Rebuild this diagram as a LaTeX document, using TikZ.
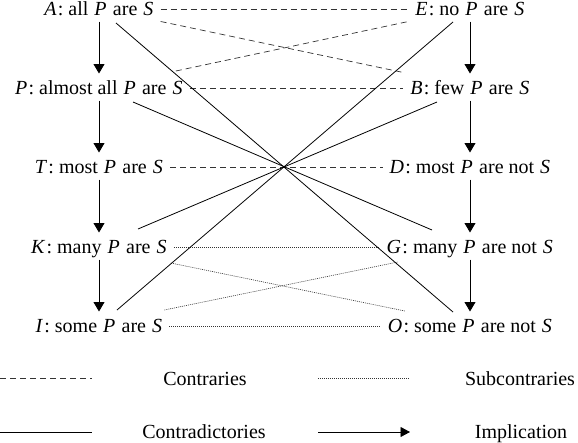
\documentclass[tikz,border=0pt]{standalone}
\usepackage{fontspec}
\setmainfont{Liberation Serif}
\usetikzlibrary{arrows.meta,calc}
\newcommand{\mi}[1]{\kern1pt\textit{#1}\kern1.3pt\relax}
\begin{document}
\begin{tikzpicture}[x=1pt,y=-1pt,
  stmt/.style={inner xsep=6pt,inner ysep=6pt,outer sep=0pt,text height=13pt,text depth=0pt,font=\fontsize{20}{24}\selectfont},
  legtext/.style={inner sep=0pt,text height=13pt,text depth=0pt,font=\fontsize{20}{24}\selectfont},
  contrary/.style={line width=0.7pt,dash pattern=on 6pt off 4pt,black!80},
  subcontrary/.style={line width=0.6pt,dash pattern=on 1pt off 1pt,black!80},
  contradict/.style={line width=0.8pt},
  imp/.style={line width=0.8pt,-{Triangle[length=9.5pt,width=11pt]},shorten >=2pt}]
\useasboundingbox (0,0) rectangle (578,442);
% nodes
\node[stmt] (A) at (99,9)   {\mi{A}: all \mi{P} are \mi{S}};
\node[stmt] (P) at (99,88)  {\mi{P}: almost all \mi{P} are \mi{S}};
\node[stmt] (T) at (99,167) {\mi{T}: most \mi{P} are \mi{S}};
\node[stmt] (K) at (99,247) {\mi{K}: many \mi{P} are \mi{S}};
\node[stmt] (I) at (99,326) {\mi{I}: some \mi{P} are \mi{S}};
\node[stmt] (E) at (470,9)   {\mi{E}: no \mi{P} are \mi{S}};
\node[stmt] (B) at (470,88)  {\mi{B}: few \mi{P} are \mi{S}};
\node[stmt] (D) at (470,167) {\mi{D}: most \mi{P} are not \mi{S}};
\node[stmt] (G) at (470,247) {\mi{G}: many \mi{P} are not \mi{S}};
\node[stmt] (O) at (470,326) {\mi{O}: some \mi{P} are not \mi{S}};
% implications
\draw[imp] (A) -- (P);
\draw[imp] (P) -- (T);
\draw[imp] (T) -- (K);
\draw[imp] (K) -- (I);
\draw[imp] (E) -- (B);
\draw[imp] (B) -- (D);
\draw[imp] (D) -- (G);
\draw[imp] (G) -- (O);
% contraries
\draw[contrary] (A.east) -- (E.west);
\draw[contrary] (A.south east) -- ([shift={(0,-3)}]B.north west);
\draw[contrary] ([shift={(-14,-4.5)}]P.north east) -- (E.south west);
\draw[contrary] (P.east) -- (B.west);
\draw[contrary] (T.east) -- (D.west);
% subcontraries
\draw[subcontrary] (K.east) -- (G.west);
\draw[subcontrary] (I.east) -- (O.west);
\draw[subcontrary] ([shift={(-3,3.5)}]K.south east) -- ([shift={(24,-2.5)}]O.north west);
\draw[subcontrary] ([shift={(-5,-3.5)}]I.north east) -- ([shift={(18,2.5)}]G.south west);
% contradictories
\draw[contradict] ([shift={(17,1.5)}]A.south) -- ([shift={(-17,-1.5)}]O.north);
\draw[contradict] ([shift={(-17,0.5)}]E.south) -- ([shift={(18,-3.5)}]I.north);
\draw[contradict] ([shift={(34,1.5)}]P.south) -- ([shift={(-38,-4.5)}]G.north);
\draw[contradict] ([shift={(-33,1.5)}]B.south) -- ([shift={(39,-5.5)}]K.north);
% legend
\coordinate (l1a) at (0,378);
\coordinate (l1b) at (92,378);
\coordinate (l2a) at (318,378);
\coordinate (l2b) at (410,378);
\coordinate (l3a) at (0,432);
\coordinate (l3b) at (92,432);
\coordinate (l4a) at (318,432);
\coordinate (l4b) at (410,432);
\draw[contrary] (l1a) -- (l1b);
\draw[subcontrary] (l2a) -- (l2b);
\draw[contradict] (l3a) -- (l3b);
\draw[line width=0.8pt,-{Triangle[length=9.5pt,width=10pt]}] (l4a) -- (l4b);
\node[legtext] (lc) at (205,379) {Contraries};
\node[legtext] (ls) at (520,379) {Subcontraries};
\node[legtext] (lk) at (204,432) {Contradictories};
\node[legtext] (li) at (521,432) {Implication};
\end{tikzpicture}
\end{document}
